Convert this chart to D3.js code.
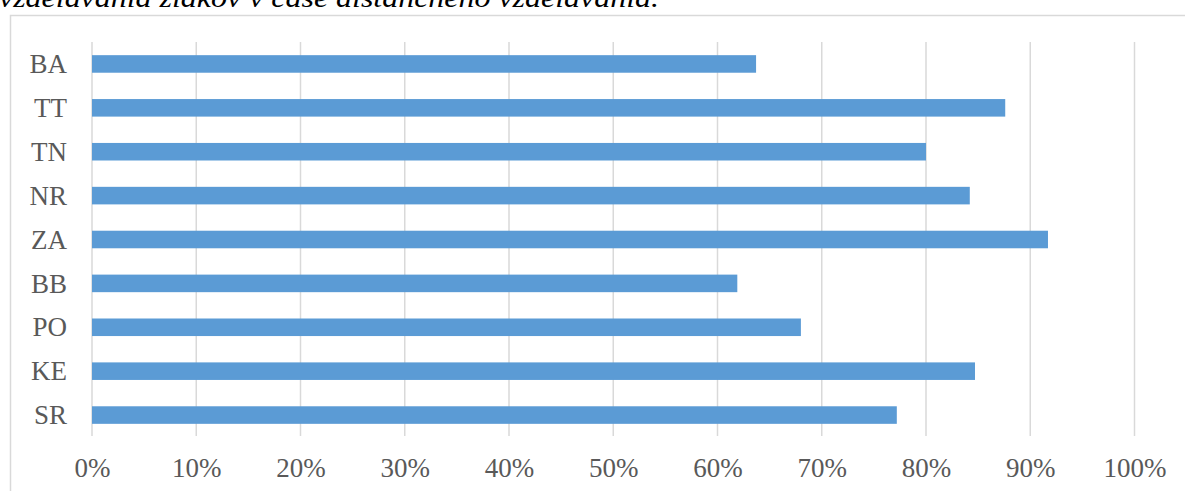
<!DOCTYPE html>
<html>
<head>
<meta charset="utf-8">
<script src="https://cdn.jsdelivr.net/npm/d3@7/dist/d3.min.js"></script>
<style>
  html, body { margin: 0; padding: 0; background: #fff; }
  svg { display: block; }
  svg text { font-family: "Liberation Serif", "Tinos", "Noto Serif", "DejaVu Serif", "FreeSerif", "Nimbus Roman", "Nimbus Roman No9 L", "Times New Roman", Times, serif; }
</style>
</head>
<body>
<svg id="chart" width="1185" height="491"></svg>
<script>
const categories = ["BA", "TT", "TN", "NR", "ZA", "BB", "PO", "KE", "SR"];
const values = [0.637, 0.876, 0.800, 0.842, 0.917, 0.619, 0.680, 0.847, 0.772];
const tickValues = [0, 0.1, 0.2, 0.3, 0.4, 0.5, 0.6, 0.7, 0.8, 0.9, 1.0];
const titleText = "vzdelávania žiakov v čase dištančného vzdelávania.";

const svg = d3.select("#chart");
const W = 1185, H = 491;
const plot = { left: 92, right: 1134.5, top: 42, bottom: 437 };

// caption text (cut off at top, as in the source)
svg.append("text")
  .attr("x", -1).attr("y", 7)
  .attr("textLength", 660).attr("lengthAdjust", "spacingAndGlyphs")
  .style("font-style", "italic")
  .style("font-size", "27px")
  .attr("fill", "#000")
  .text(titleText);

// chart frame
svg.append("rect")
  .attr("x", 10.5).attr("y", 15.5)
  .attr("width", W + 10).attr("height", H + 10)
  .attr("fill", "#fff")
  .attr("stroke", "#d9d9d9").attr("stroke-width", 1.5);

const x = d3.scaleLinear().domain([0, 1]).range([plot.left, plot.right]);
const y = d3.scaleBand().domain(categories).range([plot.top, plot.bottom]).paddingInner(0.6).paddingOuter(0.3);

// gridlines
svg.append("g").selectAll("line").data(tickValues).join("line")
  .attr("x1", d => x(d)).attr("x2", d => x(d))
  .attr("y1", plot.top).attr("y2", plot.bottom - 1)
  .attr("stroke", "#d9d9d9").attr("stroke-width", 1.5);

// bars
svg.append("g").selectAll("rect").data(categories).join("rect")
  .attr("x", x(0))
  .attr("y", d => y(d))
  .attr("width", (d, i) => x(values[i]) - x(0))
  .attr("height", y.bandwidth())
  .attr("fill", "#5b9bd5");

// x-axis labels
const xAxis = d3.axisBottom(x).tickValues(tickValues).tickFormat(d3.format(".0%")).tickSize(0).tickPadding(0);
const gx = svg.append("g").attr("transform", `translate(0, ${plot.bottom})`).call(xAxis)
  .attr("font-family", null).attr("font-size", null);
gx.select(".domain").remove();
gx.selectAll("text")
  .attr("dy", null).attr("y", 40)
  .style("font-size", "27px").attr("fill", "#595959");

// y-axis labels
const yAxis = d3.axisLeft(y).tickSize(0).tickPadding(0);
const gy = svg.append("g").attr("transform", `translate(67, 0)`).call(yAxis)
  .attr("font-family", null).attr("font-size", null);
gy.select(".domain").remove();
gy.selectAll("text")
  .attr("dy", "0.34em")
  .style("font-size", "27px").attr("fill", "#595959");
</script>
</body>
</html>
